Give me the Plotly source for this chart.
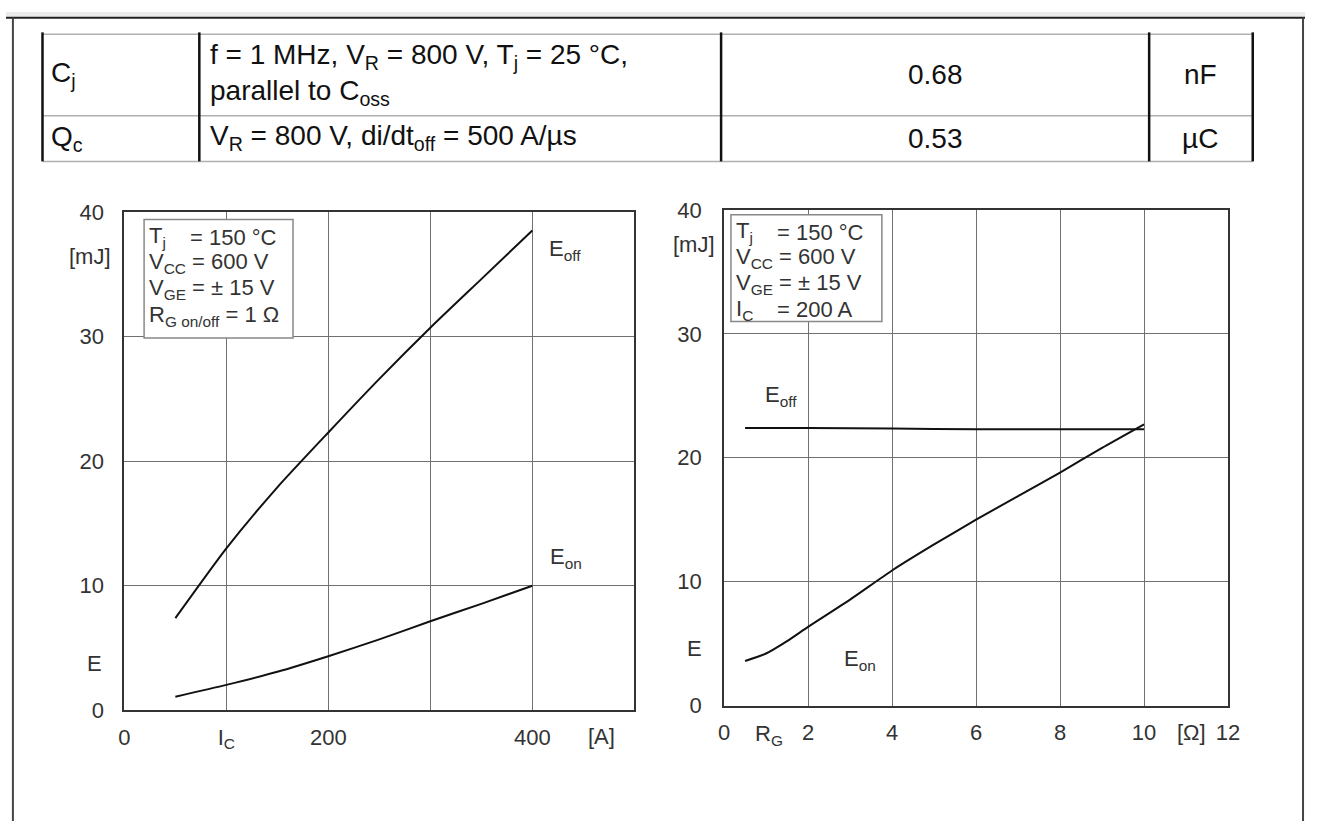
import plotly.graph_objects as go

W, H = 1317, 834

# ---------------- data ----------------
ic_off = [50, 100, 150, 200, 250, 300, 350, 400]
eoff_ic = [7.4, 13.0, 17.9, 22.3, 26.6, 30.7, 34.6, 38.5]
ic_on = [50, 100, 150, 200, 250, 300, 350, 400]
eon_ic = [1.1, 2.05, 3.1, 4.35, 5.7, 7.15, 8.55, 10.0]

rg_off = [0.5, 2, 4, 6, 8, 10]
eoff_rg = [22.4, 22.4, 22.35, 22.3, 22.3, 22.3]
rg_on = [0.5, 1, 1.5, 2, 3, 4, 5, 6, 7, 8, 9, 10]
eon_rg = [3.6, 4.2, 5.2, 6.35, 8.55, 10.9, 13.0, 15.0, 16.9, 18.8, 20.8, 22.7]

left_xticks = [0, 100, 200, 300, 400]
left_xlabels = ["0", "I<sub>C</sub>", "200", "", "400"]
right_xticks = [0, 2, 4, 6, 8, 10, 12]
right_xlabels = ["0", "2", "4", "6", "8", "10", "12"]
yticks = [0, 10, 20, 30, 40]

table_symbols = ["C<sub>j</sub>", "Q<sub>c</sub>"]
table_cond_row1 = ["f = 1 MHz, V<sub>R</sub> = 800 V, T<sub>j</sub> = 25 °C,",
                   "parallel to C<sub>oss</sub>"]
table_cond_row2 = "V<sub>R</sub> = 800 V, di/dt<sub>off</sub> = 500 A/µs"
table_values = ["0.68", "0.53"]
table_units = ["nF", "µC"]

left_box = [("T<sub>j</sub>", "= 150 °C"), ("V<sub>CC</sub> = 600 V", None),
            ("V<sub>GE</sub> = ± 15 V", None), ("R<sub>G on/off</sub> = 1 Ω", None)]
right_box = [("T<sub>j</sub>", "= 150 °C"), ("V<sub>CC</sub> = 600 V", None),
             ("V<sub>GE</sub> = ± 15 V", None), ("I<sub>C</sub>", "= 200 A")]

FONT = "Liberation Sans, Arial, Helvetica, sans-serif"
TXT = "#333333"
FS = 22


def px(x):
    return x / W


def py(y):
    return 1 - y / H


fig = go.Figure()
line = dict(color="#111111", width=2, shape="spline", smoothing=0.6)
fig.add_trace(go.Scatter(x=ic_off, y=eoff_ic, mode="lines", line=line, xaxis="x", yaxis="y"))
fig.add_trace(go.Scatter(x=ic_on, y=eon_ic, mode="lines", line=line, xaxis="x", yaxis="y"))
fig.add_trace(go.Scatter(x=rg_off, y=eoff_rg, mode="lines", line=line, xaxis="x2", yaxis="y2"))
fig.add_trace(go.Scatter(x=rg_on, y=eon_rg, mode="lines", line=line, xaxis="x2", yaxis="y2"))

axis_common = dict(showline=True, mirror=True, linecolor="#333333", linewidth=2,
                   showgrid=True, gridcolor="#707070", gridwidth=1, zeroline=False,
                   ticks="", tickfont=dict(family=FONT, size=FS, color=TXT),
                   fixedrange=True)

fig.update_layout(
    width=W, height=H, margin=dict(l=0, r=0, t=0, b=0),
    paper_bgcolor="white", plot_bgcolor="white", showlegend=False,
    font=dict(family=FONT, color=TXT),
    xaxis=dict(axis_common, domain=[px(120), px(637)], range=[0, 500],
               tickmode="array", tickvals=left_xticks, ticktext=left_xlabels,
               anchor="y", ticklabelstandoff=6),
    yaxis=dict(axis_common, domain=[py(720), py(206)], range=[0, 40],
               tickmode="array", tickvals=yticks, anchor="x", ticklabelstandoff=14),
    xaxis2=dict(axis_common, domain=[px(728), px(1239)], range=[0, 12],
                tickmode="array", tickvals=right_xticks, ticktext=right_xlabels,
                anchor="y2", ticklabelstandoff=6),
    yaxis2=dict(axis_common, domain=[py(715), py(204)], range=[0, 40],
                tickmode="array", tickvals=yticks, anchor="x2", ticklabelstandoff=16),
)

shapes = []
ann = []


def text(x, y, s, size=FS, xanchor="left", color=TXT):
    ann.append(dict(x=x, y=y, xref="paper", yref="paper", text=s, showarrow=False,
                    xanchor=xanchor, yanchor="middle",
                    font=dict(family=FONT, size=size, color=color)))


# ---------- page frame ----------
shapes.append(dict(type="rect", xref="paper", yref="paper", x0=0, x1=1, y0=py(5), y1=1,
                   fillcolor="#ebebeb", line=dict(width=0), layer="below"))
shapes.append(dict(type="line", xref="paper", yref="paper", x0=0, x1=1, y0=py(6), y1=py(6),
                   line=dict(color="#222222", width=2)))
for xx in (7, 1315):
    shapes.append(dict(type="line", xref="paper", yref="paper", x0=px(xx), x1=px(xx),
                       y0=py(6), y1=0, line=dict(color="#444444", width=2)))

# ---------- table ----------
for yy in (23, 107, 154):
    shapes.append(dict(type="line", xref="paper", yref="paper", x0=px(37), x1=px(1264),
                       y0=py(yy), y1=py(yy), line=dict(color="#b0b0b0", width=1.5)))
for xx in (37, 196, 725, 1159, 1264):
    shapes.append(dict(type="line", xref="paper", yref="paper", x0=px(xx), x1=px(xx),
                       y0=py(21), y1=py(154), line=dict(color="#111111", width=2.5)))

TS = 28
TC = "#111111"
text(px(44), py(64), table_symbols[0], size=TS, color=TC)
text(px(44), py(130), table_symbols[1], size=TS, color=TC)
text(px(205), py(46), table_cond_row1[0], size=TS, color=TC)
text(px(205), py(83), table_cond_row1[1], size=TS, color=TC)
text(px(205), py(129), table_cond_row2, size=TS, color=TC)
text(px(942), py(64), table_values[0], size=TS, xanchor="center", color=TC)
text(px(942), py(130), table_values[1], size=TS, xanchor="center", color=TC)
text(px(1211), py(64), table_units[0], size=TS, xanchor="center", color=TC)
text(px(1211), py(130), table_units[1], size=TS, xanchor="center", color=TC)

# ---------- condition boxes ----------
shapes.append(dict(type="rect", xref="paper", yref="paper", x0=px(140), x1=px(291),
                   y0=py(336), y1=py(214), line=dict(color="#888888", width=1.5),
                   fillcolor="white"))
shapes.append(dict(type="rect", xref="paper", yref="paper", x0=px(735), x1=px(888),
                   y0=py(319), y1=py(209), line=dict(color="#888888", width=1.5),
                   fillcolor="white"))
for i, (a, b) in enumerate(left_box):
    yy = [232, 259, 286, 313][i]
    text(px(143), py(yy), a)
    if b:
        text(px(185), py(yy), b)
for i, (a, b) in enumerate(right_box):
    yy = [227, 254, 280, 307][i]
    text(px(738), py(yy), a)
    if b:
        text(px(780), py(yy), b)

# ---------- axis labels ----------
text(px(85), py(252), "[mJ]", xanchor="center")
text(px(90), py(672), "E", xanchor="center")
text(px(698), py(240), "[mJ]", xanchor="center")
text(px(698), py(656), "E", xanchor="center")
text(px(604), py(747), "[A]", xanchor="center")
text(px(774), py(745), "R<sub>G</sub>", xanchor="center")
text(px(1202), py(743), "[Ω]", xanchor="center")

# ---------- curve labels ----------
text(px(548), py(245), "E<sub>off</sub>")
text(px(550), py(563), "E<sub>on</sub>")
text(px(767), py(396), "E<sub>off</sub>")
text(px(848), py(668), "E<sub>on</sub>")

fig.update_layout(shapes=shapes, annotations=ann)
fig.write_html("out.html", config={"displayModeBar": False},
               post_script="document.body.style.margin='0';"
                           "document.body.style.overflow='hidden';")
